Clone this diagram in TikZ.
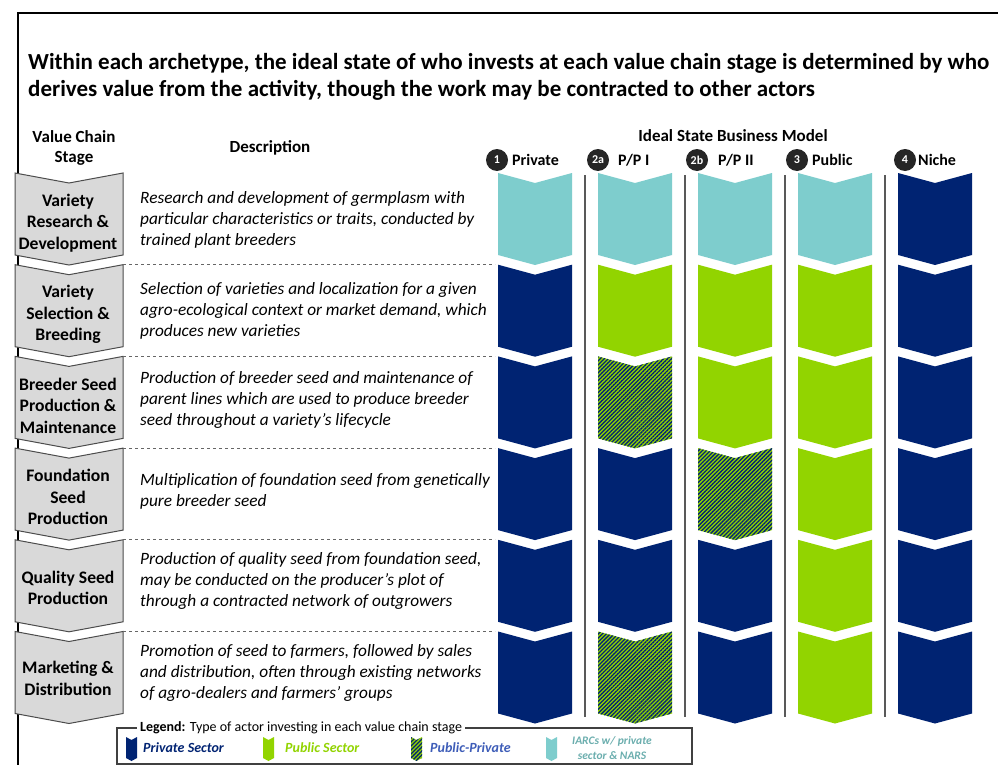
\documentclass[tikz,border=0pt]{standalone}
\usepackage{fontspec}
\setmainfont{Carlito}
\usetikzlibrary{positioning,patterns.meta}

\definecolor{navy}{HTML}{002372}
\definecolor{lime}{HTML}{92D400}
\definecolor{iarc}{HTML}{7ECDCD}
\definecolor{ppblue}{HTML}{3E5DB8}
\definecolor{stagegray}{HTML}{D9D9D9}

\newcommand{\fs}[2]{\fontsize{#1}{#2}\selectfont}

\tikzset{
  % one cell of a business model column, #1 = who invests
  pics/cell/.style={code={
    \path[#1] (0,0) -- (37,10) -- (74,0) -- (74,82) -- (37,92) -- (0,82) -- cycle;}},
  % the wider grey stage arrow on the left
  pics/stagebox/.style={code={
    \path[fill=stagegray, draw=black!70, line width=1pt]
      (0,0) -- (54,10) -- (108,0) -- (108,82) -- (54,92) -- (0,82) -- cycle;}},
  pics/legicon/.style={code={
    \path[#1] (0,0) -- (5.5,3) -- (11,0) -- (11,21) -- (5.5,24) -- (0,21) -- cycle;}},
  priv/.style={fill=navy},
  publ/.style={fill=lime},
  iarc/.style={fill=iarc},
  pp/.style={fill=lime, postaction={pattern={Lines[angle=45,distance=2.8pt,line width=1.3pt]}, pattern color=navy}},
}

\begin{document}
\begin{tikzpicture}[x=1pt,y=-1pt]
  \tikzstyle{hdr} = [font=\fs{16}{20}\bfseries, align=center, inner sep=0]
  \tikzstyle{stage} = [font=\fs{17.6}{21.5}\bfseries, align=center, inner sep=0]
  \tikzstyle{desc} = [font=\fs{17.3}{21}\itshape, align=left, anchor=west, inner sep=0]
  \tikzstyle{num} = [circle, fill=black!85, text=white, inner sep=0, minimum size=22pt, font=\fs{12}{12}\bfseries]
  \tikzstyle{leg} = [font=\fs{14}{16}\bfseries\itshape, anchor=west, inner sep=0]

  \clip (0,0) rectangle (998,765);
  \fill[white] (0,0) rectangle (998,765);

  % frame
  \draw[line width=2pt] (18,800) -- (18,13) -- (1010,13);

  \node[font=\fs{23}{27}\bfseries, align=left, anchor=north west, inner sep=0] (title) at (28,53)
    {Within each archetype, the ideal state of who invests at each value chain stage is determined by who\\
     derives value from the activity, though the work may be contracted to other actors};

  % column headings
  \node[hdr, font=\fs{17}{20}\bfseries] (vcs) at (74,148) {Value Chain\\Stage};
  \node[hdr, font=\fs{17}{20}\bfseries] (dsc) at (270,148) {Description};
  \node[hdr, font=\fs{17}{20}\bfseries] (ism) at (733,136) {Ideal State Business Model};

  \node[num] (n1) at (497,160) {1};
  \node[num] (n2a) at (598,160) {2a};
  \node[num] (n2b) at (697,160) {2b};
  \node[num] (n3) at (797,160) {3};
  \node[num] (n4) at (905,160) {4};
  \node[hdr, anchor=west] (m1) at (512,160) {Private};
  \node[hdr, anchor=west] (m2a) at (618,160) {P/P I};
  \node[hdr, anchor=west] (m2b) at (718,160) {P/P II};
  \node[hdr, anchor=west] (m3) at (812,160) {Public};
  \node[hdr, anchor=west] (m4) at (918,160) {Niche};

  % stage arrows
  \foreach \r in {0,...,5}
    \pic at (15,173+91.7*\r) {stagebox};

  \node[stage] (s1) at (68,173+50) {Variety\\Research \&\\Development};
  \node[stage] (s2) at (68,264.7+50) {Variety\\Selection \&\\Breeding};
  \node[stage] (s3) at (68,356.4+49) {Breeder Seed\\Production \&\\Maintenance};
  \node[stage] (s4) at (68,448.1+49) {Foundation\\Seed\\Production};
  \node[stage] (s5) at (68,539.8+48) {Quality Seed\\Production};
  \node[stage] (s6) at (68,631.5+47) {Marketing \&\\Distribution};

  \node[desc] (d1) at (140,173+47) {Research and development of germplasm with\\particular characteristics or traits, conducted by\\trained plant breeders};
  \node[desc] (d2) at (140,264.7+46) {Selection of varieties and localization for a given\\agro-ecological context or market demand, which\\produces new varieties};
  \node[desc] (d3) at (140,356.4+44) {Production of breeder seed and maintenance of\\parent lines which are used to produce breeder\\seed throughout a variety’s lifecycle};
  \node[desc] (d4) at (140,448.1+43) {Multiplication of foundation seed from genetically\\pure breeder seed};
  \node[desc] (d5) at (140,539.8+41) {Production of quality seed from foundation seed,\\may be conducted on the producer’s plot of\\through a contracted network of outgrowers};
  \node[desc] (d6) at (140,631.5+41) {Promotion of seed to farmers, followed by sales\\and distribution, often through existing networks\\of agro-dealers and farmers’ groups};

  % row separators
  \foreach \r in {1,...,5}
    \draw[black!60, dashed, line width=0.9pt] (123,173+91.7*\r) -- (495,173+91.7*\r);

  % column separators
  \foreach \c in {0,...,3}
    \draw[black!65, line width=1.6pt] (585+100*\c,175) -- (585+100*\c,717);

  % who invests, stage by stage
  \foreach \r/\kinds in {0/{iarc,iarc,iarc,iarc,priv}, 1/{priv,publ,publ,publ,priv},
                         2/{priv,pp,publ,publ,priv}, 3/{priv,priv,pp,publ,priv},
                         4/{priv,priv,priv,publ,priv}, 5/{priv,pp,priv,publ,priv}}
    \foreach \k [count=\c from 0] in \kinds
      \pic at (498+100*\c,173+91.7*\r) {cell=\k};

  % legend
  \draw[black!75, line width=1.2pt] (117,728) rectangle (692,764);
  \node[fill=white, inner sep=3pt, anchor=west, font=\fs{14}{16}] (legt) at (137,728)
    {\textbf{Legend:} Type of actor investing in each value chain stage};
  \pic at (126,737) {legicon=priv};
  \node[leg, text=navy] (l1) at (143,748) {Private Sector};
  \pic at (263,737) {legicon=publ};
  \node[leg, text=lime] (l2) at (285,748) {Public Sector};
  \pic at (411,737) {legicon=pp};
  \node[leg, text=ppblue] (l3) at (430,748) {Public-Private};
  \pic at (546,737) {legicon=iarc};
  \node[font=\fs{11.5}{15}\bfseries\itshape, text=iarc!85!black, align=center, inner sep=0] (l4) at (612,748)
    {IARCs w/ private\\sector \& NARS};
\end{tikzpicture}
\end{document}
